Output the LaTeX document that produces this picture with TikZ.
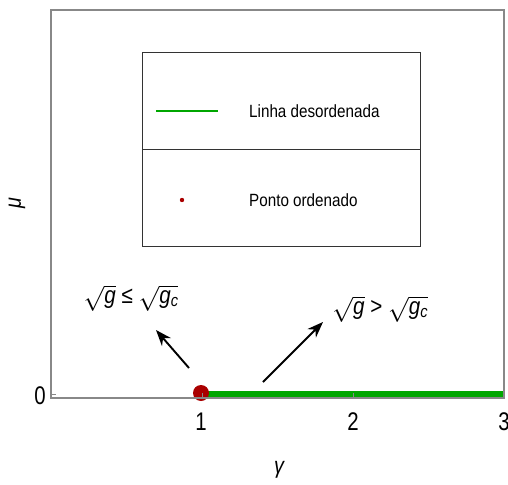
\documentclass[tikz,border=0pt]{standalone}
\usepackage{fontspec}
\setmainfont[FakeStretch=0.86]{Liberation Sans}
\newfontfamily\tickfont[FakeStretch=0.8]{Liberation Sans}
\usetikzlibrary{arrows.meta}
\definecolor{lgreen}{RGB}{0,166,0}
\definecolor{dred}{RGB}{170,0,0}
\definecolor{framegray}{RGB}{136,136,136}
\newcommand{\ig}{\mbox{\itshape g}}
\newcommand{\igc}{\mbox{\itshape g\raisebox{-0.25ex}{\fontsize{17}{17}\selectfont c}}}
\begin{document}
\begin{tikzpicture}[x=1pt,y=-1pt,
  frame/.style={draw=framegray,line width=1.2pt},
  ticklbl/.style={font=\tickfont\fontsize{25.5}{25.5}\selectfont,inner sep=0pt},
  axlbl/.style={font=\fontsize{23}{23}\selectfont\itshape,inner sep=0pt},
  leglbl/.style={font=\fontsize{17.7}{18}\selectfont,inner sep=0pt,anchor=west},
  annot/.style={font=\fontsize{24}{24}\selectfont,inner sep=0pt},
  arr/.style={line width=1.9pt,-{Stealth[length=16pt,width=12pt]}}]
\useasboundingbox (0,0) rectangle (508,484);
\fill[white] (0,0) rectangle (508,484);
% data
\draw[lgreen,line width=7pt] (201,394) -- (504,394);
\fill[dred] (201,393) circle (8);
% frame and ticks
\draw[frame] (51,10) rectangle (504,398);
\draw[framegray,line width=0.8pt] (202,398) -- (202,393) (353,398) -- (353,393) (51,394) -- (56,394);
% tick labels
\node[ticklbl] (t0) at (40,396) {0};
\node[ticklbl] (t1) at (201,422) {1};
\node[ticklbl] (t2) at (353,422) {2};
\node[ticklbl] (t3) at (504,422) {3};
% axis labels
\node[axlbl] (gam) at (279,470) {γ};
\node[axlbl,rotate=90] (mu) at (17,203) {μ};
% legend
\draw[black!80,line width=1pt] (142,53) rectangle (420,246);
\draw[black!80,line width=1pt] (142,149) -- (420,149);
\draw[lgreen,line width=2.5pt] (156,111) -- (218,111);
\fill[dred] (182,200) circle (2.2);
\node[leglbl] (l1) at (249,111) {Linha desordenada};
\node[leglbl] (l2) at (249,200) {Ponto ordenado};
% annotations
\node[annot] (a1) at (131,298) {$\sqrt{\ig}$ ≤ $\sqrt{\igc}$};
\node[annot] (a2) at (380,309) {$\sqrt{\ig}$ > $\sqrt{\igc}$};
\coordinate (s1) at (189,368);
\coordinate (e1) at (156,330);
\coordinate (s2) at (263,382);
\coordinate (e2) at (323,322);
\draw[arr] (s1) -- (e1);
\draw[arr] (s2) -- (e2);
\end{tikzpicture}
\end{document}
